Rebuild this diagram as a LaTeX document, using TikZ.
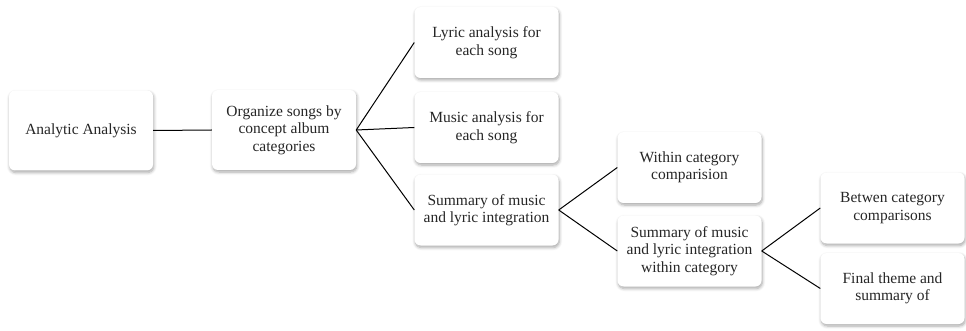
\documentclass[tikz,border=0pt]{standalone}
\usepackage{fontspec}
\setmainfont{Liberation Serif}
\usetikzlibrary{shadows.blur}
\begin{document}
\begin{tikzpicture}[x=1pt,y=-1pt,
  box/.style={rectangle, rounded corners=6pt, fill=white, draw=none,
    blur shadow={shadow xshift=0.8pt, shadow yshift=-2pt, shadow blur steps=6, shadow blur radius=3pt, shadow opacity=35},
    minimum width=144pt, minimum height=71pt, align=center, inner sep=2pt,
    font=\fontsize{15.5}{17.5}\selectfont, text=black!85},
  tall/.style={minimum height=80pt},
  link/.style={draw=black, line width=1pt}]
\useasboundingbox (0,0) rectangle (966,331);
\node[box,tall] (a) at (81,130.5) {Analytic Analysis};
\node[box,tall] (b) at (284,130) {Organize songs by\\concept album\\categories};
\node[box] (c1) at (486.5,42.5) {Lyric analysis for\\each song};
\node[box] (c2) at (486.5,127.5) {Music analysis for\\each song};
\node[box] (c3) at (486.5,210) {Summary of music\\and lyric integration};
\node[box] (d1) at (689.5,167.5) {Within category\\comparision};
\node[box] (d2) at (689.5,251) {Summary of music\\and lyric integration\\within category};
\node[box] (e1) at (892.5,208) {Betwen category\\comparisons};
\node[box] (e2) at (892.5,288.5) {Final theme and\\summary of};
\draw[link] (a.east) -- (b.west);
\draw[link] (b.east) -- (c1.west);
\draw[link] (b.east) -- (c2.west);
\draw[link] (b.east) -- (c3.west);
\draw[link] (c3.east) -- (d1.west);
\draw[link] (c3.east) -- (d2.west);
\draw[link] (d2.east) -- (e1.west);
\draw[link] (d2.east) -- (e2.west);
\end{tikzpicture}
\end{document}
